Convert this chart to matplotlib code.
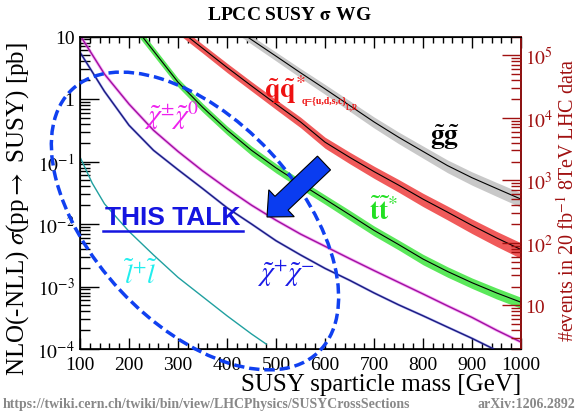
import numpy as np
import matplotlib
matplotlib.use("Agg")
import matplotlib.pyplot as plt
from matplotlib import ticker, patches, transforms, lines

plt.rcParams['font.family'] = ['Liberation Serif', 'DejaVu Serif']
plt.rcParams['mathtext.fontset'] = 'stix'

W, H = 578, 414

# cross sections in pb
m_gg = [400, 450, 500, 550, 600, 650, 700, 750, 800, 850, 900, 950, 1000]
xs_gg = [16.6, 8.9, 4.85, 2.63, 1.45, 0.79, 0.43, 0.245, 0.145, 0.086, 0.055, 0.037, 0.025]
unc_gg = [0.14, 0.15, 0.16, 0.17, 0.18, 0.19, 0.20, 0.21, 0.22, 0.23, 0.24, 0.25, 0.26]

m_qq = [300, 350, 400, 450, 500, 550, 600, 650, 700, 750, 800, 850, 900, 950, 1000]
xs_qq = [13.2, 6.5, 3.2, 1.62, 0.83, 0.43, 0.204, 0.117, 0.069, 0.042, 0.025, 0.0155, 0.0095, 0.006, 0.0039]
unc_qq = [0.16, 0.16, 0.17, 0.17, 0.18, 0.19, 0.20, 0.21, 0.22, 0.23, 0.24, 0.25, 0.26, 0.27, 0.28]

m_tt = [200, 250, 300, 350, 400, 450, 500, 550, 600, 650, 700, 750, 800, 850, 900, 950, 1000]
xs_tt = [18.6, 5.9, 1.86, 0.74, 0.32, 0.151, 0.079, 0.044, 0.025, 0.0141, 0.0079, 0.0047,
         0.00275, 0.00174, 0.00115, 0.00079, 0.00056]
unc_tt = [0.16, 0.16, 0.16, 0.16, 0.16, 0.17, 0.17, 0.17, 0.17, 0.18, 0.18, 0.18, 0.19, 0.19, 0.19, 0.20, 0.20]

m_c1n2 = [100, 150, 200, 250, 300, 350, 400, 450, 500, 550, 600, 650, 700, 750, 800, 850, 900, 950, 1000]
xs_c1n2 = [10.5, 2.5, 0.83, 0.316, 0.145, 0.071, 0.037, 0.020, 0.0115, 0.0069, 0.0044, 0.0028,
           0.0018, 0.00117, 0.00076, 0.00049, 0.00032, 0.0002, 0.000129]

m_c1c1 = [100, 150, 200, 250, 300, 350, 400, 450, 500, 550, 600, 650, 700, 750, 800, 850, 900, 950]
xs_c1c1 = [5.6, 1.32, 0.38, 0.151, 0.074, 0.037, 0.0182, 0.01, 0.0054, 0.0032, 0.00195, 0.00126,
           0.00079, 0.00051, 0.00034, 0.000224, 0.000148, 0.000095]

m_ll = [100, 125, 150, 200, 250, 300, 350, 400, 450, 480]
xs_ll = [0.118, 0.045, 0.021, 0.0076, 0.0032, 0.0014, 0.00069, 0.00034, 0.000174, 0.00012]

lumi = 20000.0  # 20 fb-1 in pb-1

fig = plt.figure(figsize=(W / 100, H / 100), dpi=100)
ax = fig.add_axes([80 / W, 1 - 350 / H, 441 / W, 312.5 / H])

def band(m, xs, unc, fc):
    m = np.array(m); xs = np.array(xs); unc = np.array(unc)
    ax.fill_between(m, xs * (1 - unc), xs * (1 + unc), color=fc, lw=0, zorder=2)
    ax.plot(m, xs, color='k', lw=0.8, zorder=3)

band(m_gg, xs_gg, unc_gg, '#c8c8c8')
band(m_qq, xs_qq, unc_qq, '#f05a5a')
band(m_tt, xs_tt, unc_tt, '#5ae85a')
ax.plot(m_c1n2, xs_c1n2, color='#f070f0', lw=2.2, alpha=0.6, zorder=2)
ax.plot(m_c1n2, xs_c1n2, color='#a010a0', lw=1.0, zorder=3)
ax.plot(m_c1c1, xs_c1c1, color='#6060e0', lw=1.8, alpha=0.5, zorder=2)
ax.plot(m_c1c1, xs_c1c1, color='#1a1a80', lw=1.0, zorder=3)
ax.plot(m_ll, xs_ll, color='#20a0a0', lw=1.0, zorder=3)

ax.set_yscale('log')
ax.set_xlim(100, 1000)
ax.set_ylim(1e-4, 10)
ax.xaxis.set_major_locator(ticker.MultipleLocator(100))
ax.xaxis.set_minor_locator(ticker.MultipleLocator(20))
ax.yaxis.set_major_locator(ticker.LogLocator(base=10))
ax.yaxis.set_minor_locator(ticker.LogLocator(base=10, subs=np.arange(2, 10)))
ax.yaxis.set_minor_formatter(ticker.NullFormatter())
ax.set_yticks([1e-4, 1e-3, 1e-2, 1e-1, 1, 10])
ax.set_yticklabels([r'$10^{-4}$', r'$10^{-3}$', r'$10^{-2}$', r'$10^{-1}$', '1', '10'])
ax.tick_params(axis='x', which='both', direction='in', top=True, labelsize=14, pad=5)
ax.tick_params(axis='x', which='major', length=8, width=1)
ax.tick_params(axis='x', which='minor', length=4, width=1)
ax.tick_params(axis='y', which='both', direction='in', labelsize=14, pad=4)
ax.tick_params(axis='y', which='major', length=14, width=1)
ax.tick_params(axis='y', which='minor', length=7, width=1)
for s in ax.spines.values():
    s.set_linewidth(1.2)
ax.set_xlabel('SUSY sparticle mass [GeV]', fontsize=18, loc='right', labelpad=0)
ax.set_ylabel(r'NLO(-NLL) $\sigma$(pp$\rightarrow$ SUSY) [pb]', fontsize=18)
ax.yaxis.set_label_coords(-0.112, 0.45)

red = '#a01010'
ax2 = ax.twinx()
ax2.set_yscale('log')
ax2.set_ylim(1e-4 * lumi, 10 * lumi)
ax2.set_yticks([10, 100, 1e3, 1e4, 1e5])
ax2.set_yticklabels(['10', r'$10^{2}$', r'$10^{3}$', r'$10^{4}$', r'$10^{5}$'])
ax2.yaxis.set_minor_locator(ticker.LogLocator(base=10, subs=np.arange(2, 10)))
ax2.yaxis.set_minor_formatter(ticker.NullFormatter())
ax2.tick_params(axis='y', which='both', direction='in', colors=red, labelsize=14, pad=3)
ax2.tick_params(axis='y', which='major', length=14, width=1)
ax2.tick_params(axis='y', which='minor', length=7, width=1)
ax2.spines['right'].set_color(red)
ax2.spines['right'].set_linewidth(1.2)
ax2.set_ylabel(r'#events in 20 fb$^{-1}$ 8TeV LHC data', color=red, fontsize=14.5)
ax2.yaxis.set_label_coords(1.081, 0.48)

def fx(px):
    return px / W

def fy(py):
    return 1 - py / H

# curve labels
fig.text(fx(445), fy(137), r'$\tilde{\mathbf{g}}\tilde{\mathbf{g}}$', fontsize=20, color='k',
         ha='center', va='center')
fig.text(fx(285), fy(90), r'$\tilde{\mathbf{q}}\tilde{\mathbf{q}}^{*}$', fontsize=20, color='#ee1111',
         ha='center', va='center')
fig.text(fx(302), fy(101), 'q={u,d,s,c}', fontsize=7, color='#ee1111', ha='left', va='center',
         weight='bold')
fig.text(fx(346), fy(107), 'L,R', fontsize=5.5, color='#ee1111', ha='left', va='center', weight='bold')
fig.text(fx(384), fy(212), r'$\tilde{\mathbf{t}}\tilde{\mathbf{t}}^{*}$', fontsize=20, color='#22e022',
         ha='center', va='center')
fig.text(fx(172), fy(116), r'$\tilde{\chi}^{\pm}\tilde{\chi}^{0}$', fontsize=20, color='#ee22ee',
         ha='center', va='center')
fig.text(fx(286), fy(274), r'$\tilde{\chi}^{+}\tilde{\chi}^{-}$', fontsize=20, color='#1a1ae6',
         ha='center', va='center')
fig.text(fx(141), fy(275), r'$\tilde{l}^{+}\tilde{l}$', fontsize=20, color='#22eeee',
         ha='center', va='center')

# "this talk" marker
fig.text(fx(173), fy(218), 'THIS TALK', fontsize=19, color='#1515e0', weight='bold',
         family='Liberation Sans', ha='center', va='center')
fig.add_artist(lines.Line2D([fx(103), fx(243)], [fy(232), fy(232)], color='#1515e0', lw=1.8))

pix = transforms.IdentityTransform()
ell = patches.Ellipse((195, H - 222), width=360, height=204, angle=-47, transform=pix,
                      fill=False, ec='#1040f0', lw=2.5, ls=(0, (3, 1.4)), zorder=5)
fig.add_artist(ell)
arr = patches.FancyArrow(324, H - 164, -57, -54, width=19, head_width=37, head_length=20,
                         length_includes_head=True, fc='#0a3cf0', ec='k', lw=0.8,
                         transform=pix, zorder=6)
fig.add_artist(arr)

fig.text(0.5, fy(15), r'LPCC SUSY $\mathbf{\sigma}$ WG', fontsize=14, weight='bold',
         ha='center', va='center')
fig.text(fx(3), fy(405), 'https://twiki.cern.ch/twiki/bin/view/LHCPhysics/SUSYCrossSections',
         fontsize=10, color='#888888', weight='bold', ha='left', va='center')
fig.text(fx(575), fy(405), 'arXiv:1206.2892', fontsize=10, color='#888888', weight='bold',
         ha='right', va='center')

fig.savefig('out.png', dpi=100)
